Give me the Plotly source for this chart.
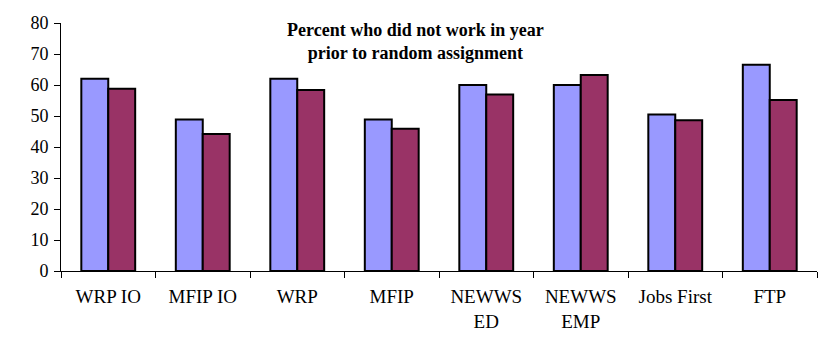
import plotly.graph_objects as go

# Program sites and the two groups' values (percent)
categories = ["WRP IO", "MFIP IO", "WRP", "MFIP", "NEWWS<br>ED", "NEWWS<br>EMP", "Jobs First", "FTP"]
series_a = [62.0, 48.9, 62.0, 48.9, 60.0, 60.0, 50.5, 66.5]
series_b = [58.8, 44.2, 58.4, 45.9, 56.9, 63.2, 48.6, 55.2]
y_ticks = [0, 10, 20, 30, 40, 50, 60, 70, 80]

fig = go.Figure()
fig.add_trace(go.Bar(x=categories, y=series_a, marker=dict(color="#9999FF", line=dict(color="black", width=2))))
fig.add_trace(go.Bar(x=categories, y=series_b, marker=dict(color="#993366", line=dict(color="black", width=2))))

fig.update_layout(
    width=830, height=346,
    margin=dict(l=61, r=13, t=23, b=75),
    paper_bgcolor="white", plot_bgcolor="white",
    barmode="group", bargap=0.43, bargroupgap=0,
    showlegend=False,
    font=dict(family="Liberation Serif", color="black"),
    annotations=[dict(
        text="<b>Percent who did not work in year<br>prior to random assignment</b>",
        xref="paper", yref="paper", x=(415 - 61) / 756, y=1.022, xanchor="center", yanchor="top",
        showarrow=False, font=dict(size=18, family="Liberation Serif", color="black"),
    )],
)
fig.update_xaxes(
    showline=True, linecolor="black", linewidth=1,
    ticks="outside", tickson="boundaries", ticklen=6, tickcolor="black",
    tickfont=dict(size=19, family="Liberation Serif", color="black"),
    ticklabelstandoff=8,
    showgrid=False,
)
fig.update_yaxes(
    range=[0, 80], tickvals=y_ticks,
    showline=True, linecolor="black", linewidth=1,
    ticks="outside", ticklen=6, tickcolor="black",
    tickfont=dict(size=18, family="Liberation Serif", color="black"),
    ticklabelstandoff=2,
    showgrid=False, zeroline=False,
)

fig.write_html("out.html")
